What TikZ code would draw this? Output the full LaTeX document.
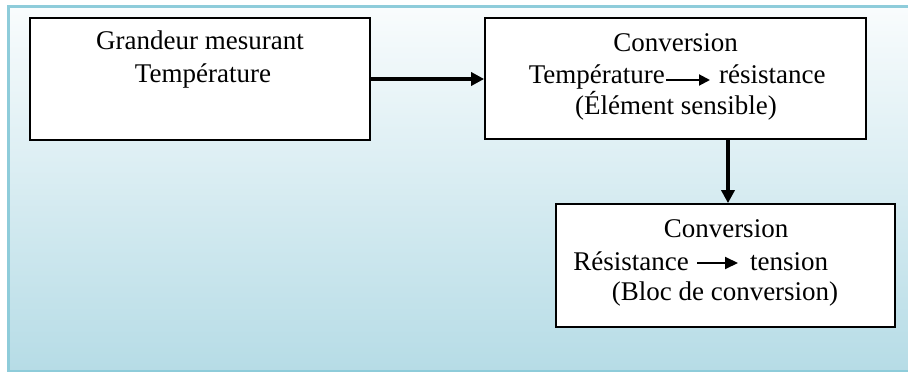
\documentclass[tikz,border=0pt]{standalone}
\usepackage{fontspec}
\setmainfont{Liberation Serif}
\usetikzlibrary{arrows.meta}
\definecolor{paneltop}{HTML}{F9FCFD}
\definecolor{panelmid}{HTML}{E0EFF3}
\definecolor{panelbot}{HTML}{B6DCE6}
\definecolor{panelrim}{HTML}{8ECCDA}
\tikzset{
  block/.style={draw=black, fill=white, line width=1.7pt, inner sep=0pt},
  txt/.style={inner sep=0pt, anchor=base, font=\fontsize{27}{31}\selectfont},
  flow/.style={line width=3.6pt, -{Triangle[length=13pt,width=13pt]}},
  inline/.style={line width=2pt, -{Triangle[length=11pt,width=11pt]}},
  inlinewide/.style={line width=2pt, -{Triangle[length=13pt,width=12pt]}}
}
\begin{document}
\begin{tikzpicture}[x=1pt, y=-1pt]
\useasboundingbox (0,0) rectangle (908,374);
\fill[white] (0,0) rectangle (908,374);
% shaded panel behind the diagram
\shade[top color=paneltop, middle color=panelmid, bottom color=panelbot]
  (8.5,6.5) rectangle (912,371);
\draw[panelrim, line width=2.6pt] (912,6.5) -- (8.5,6.5) -- (8.5,371) -- (912,371);

% blocks
\node[block, minimum width=340pt, minimum height=122pt] (b1) at (200,79) {};
\node[block, minimum width=381pt, minimum height=121pt] (b2) at (675.5,78.5) {};
\node[block, minimum width=339pt, minimum height=123pt] (b3) at (725.5,265.5) {};

% block 1 text
\node[txt] (g1) at (200,50) {Grandeur mesurant};
\node[txt] (g2) at (203,82.5) {Température};

% block 2 text
\node[txt] (c1) at (675.5,52) {Conversion};
\node[txt, anchor=base east] (c2a) at (665,83.5) {Température};
\node[txt, anchor=base west] (c2b) at (719,83.5) {résistance};
\node[txt] (c3) at (676,114.5) {(Élément sensible)};
\coordinate (c2s) at (666,80);
\coordinate (c2e) at (710,80);
\draw[inline] (c2s) -- (c2e);

% block 3 text
\node[txt] (d1) at (726,238) {Conversion};
\node[txt, anchor=base east] (d2a) at (689,270) {Résistance};
\node[txt, anchor=base west] (d2b) at (750,270) {tension};
\node[txt] (d3) at (725,301) {(Bloc de conversion)};
\coordinate (d2s) at (697,263);
\coordinate (d2e) at (738,263);
\draw[inlinewide] (d2s) -- (d2e);

% connectors
\coordinate (hy) at (0,79);
\coordinate (vx) at (728,0);
\draw[flow] (b1.east |- hy) -- (b2.west |- hy);
\draw[flow] (vx |- b2.south) -- (vx |- b3.north);
\end{tikzpicture}
\end{document}
